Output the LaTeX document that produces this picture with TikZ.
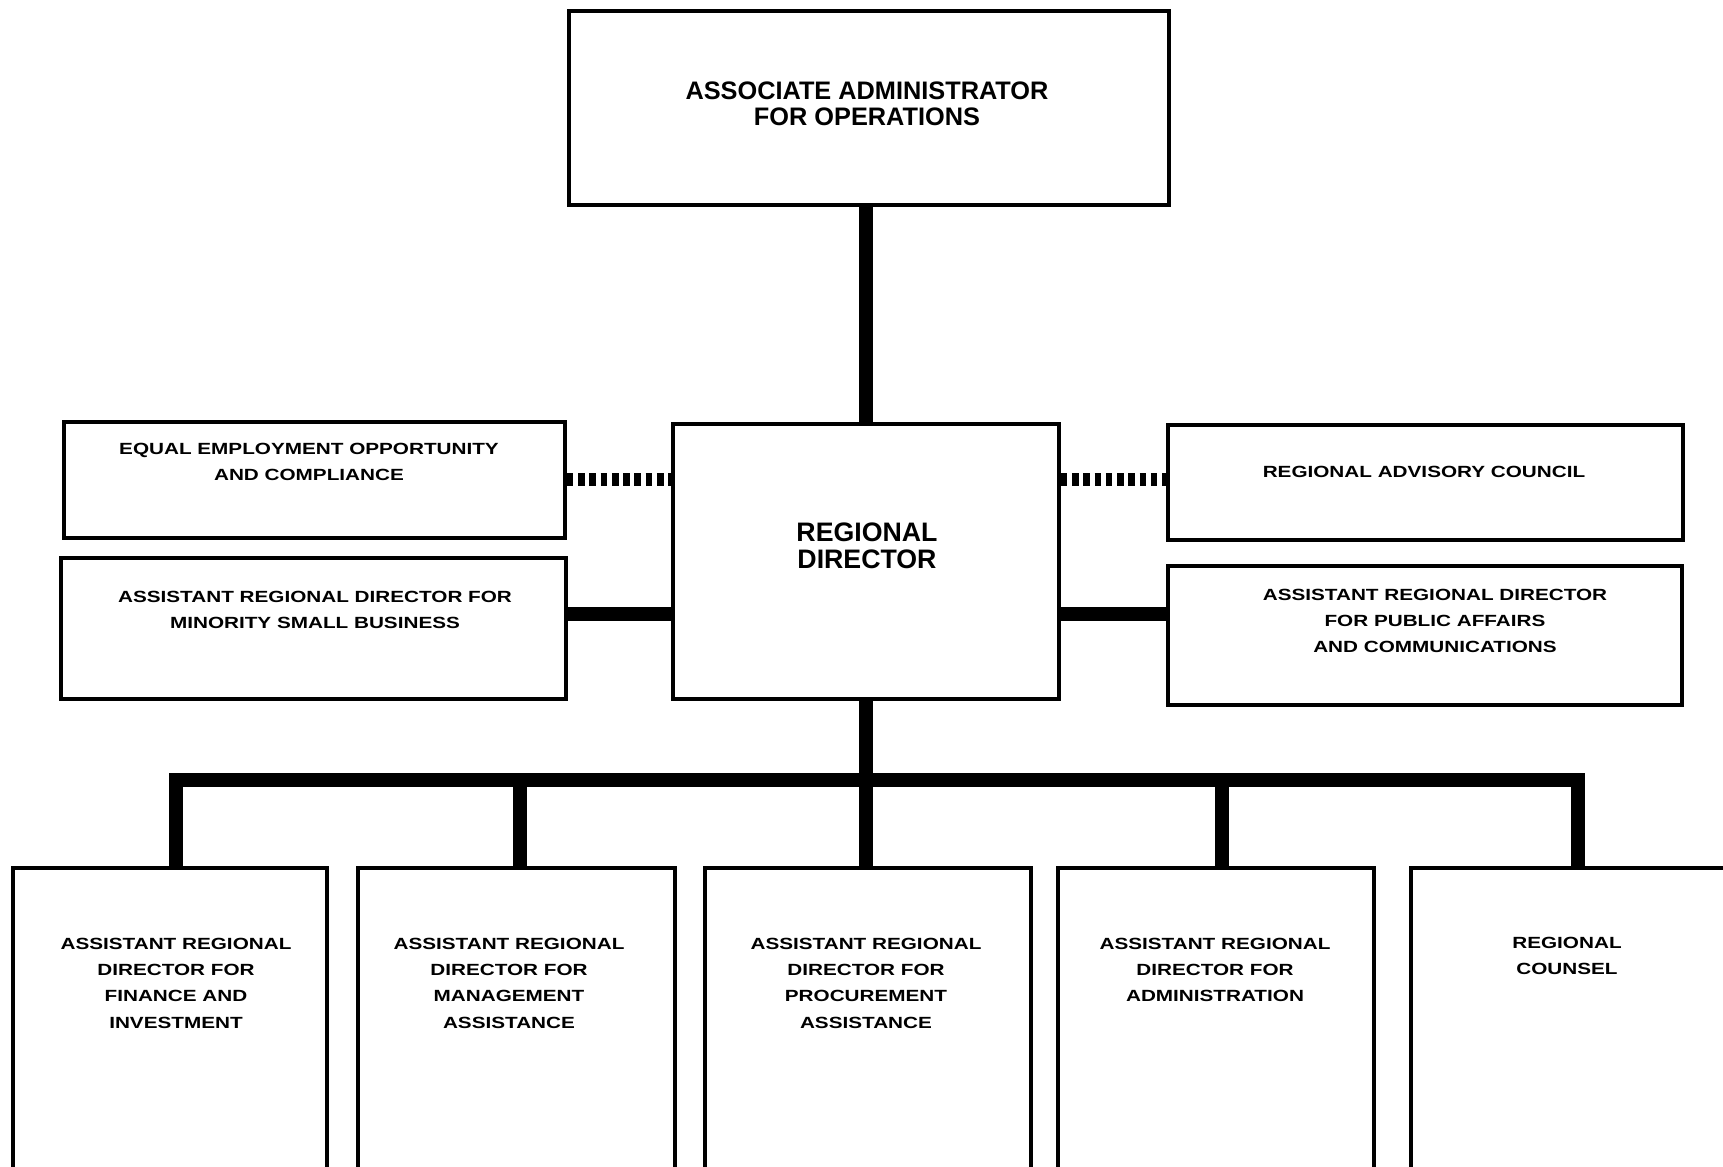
\documentclass[tikz,border=0pt]{standalone}
\usepackage{fontspec}
\setmainfont{Liberation Sans}
\newfontfamily\widefont{Liberation Sans}[FakeStretch=1.28]

\begin{document}
\begin{tikzpicture}[x=0.01cm,y=-0.01cm,
	box/.style={draw,line width=1pt,inner sep=0pt,anchor=north west},
	caption/.style={align=center,inner sep=0pt,font=\widefont\bfseries\fontsize{4.6}{7.5}\selectfont},
	bigcaption/.style={align=center,inner sep=0pt,font=\bfseries\fontsize{7.2}{7.4}\selectfont},
	tie/.style={line width=4pt,line join=miter},
	dotline/.style={line width=3.8pt,dash pattern=on 1.9pt off 1.3pt}]
	\useasboundingbox[fill=white] (0,0) rectangle (1723,1167);

	% boxes
	\node[box,minimum width=6cm,minimum height=1.94cm] (aao) at (567,9) {};
	\node[box,minimum width=3.86cm,minimum height=2.75cm] (rd) at (671,422) {};
	\node[box,minimum width=5.01cm,minimum height=1.16cm] (eeo) at (62,420) {};
	\node[box,minimum width=5.05cm,minimum height=1.41cm] (mino) at (59,556) {};
	\node[box,minimum width=5.15cm,minimum height=1.15cm] (rac) at (1166,423) {};
	\node[box,minimum width=5.14cm,minimum height=1.39cm] (pub) at (1166,564) {};
	\node[box,minimum width=3.14cm,minimum height=3.1cm] (fin) at (11,866) {};
	\node[box,minimum width=3.17cm,minimum height=3.1cm] (mgmt) at (356,866) {};
	\node[box,minimum width=3.26cm,minimum height=3.1cm] (proc) at (703,866) {};
	\node[box,minimum width=3.16cm,minimum height=3.1cm] (admin) at (1056,866) {};
	\node[box,minimum width=3.4cm,minimum height=3.1cm] (counsel) at (1409,866) {};

	% texts
	\node[bigcaption] (aao-t) at (867,104) {ASSOCIATE ADMINISTRATOR\\FOR OPERATIONS};
	\node[bigcaption,font=\bfseries\fontsize{7.6}{7.7}\selectfont] (rd-t) at (867,546) {REGIONAL\\DIRECTOR};
	\node[caption] (eeo-t) at (309,462) {EQUAL EMPLOYMENT OPPORTUNITY\\AND COMPLIANCE};
	\node[caption] (mino-t) at (315,610) {ASSISTANT REGIONAL DIRECTOR FOR\\MINORITY SMALL BUSINESS};
	\node[caption] (rac-t) at (1424,472) {REGIONAL ADVISORY COUNCIL};
	\node[caption] (pub-t) at (1435,621) {ASSISTANT REGIONAL DIRECTOR\\FOR PUBLIC AFFAIRS\\AND COMMUNICATIONS};
	\node[caption] (fin-t) at (176,983) {ASSISTANT REGIONAL\\DIRECTOR FOR\\FINANCE AND\\INVESTMENT};
	\node[caption] (mgmt-t) at (509,983) {ASSISTANT REGIONAL\\DIRECTOR FOR\\MANAGEMENT\\ASSISTANCE};
	\node[caption] (proc-t) at (866,983) {ASSISTANT REGIONAL\\DIRECTOR FOR\\PROCUREMENT\\ASSISTANCE};
	\node[caption] (admin-t) at (1215,970) {ASSISTANT REGIONAL\\DIRECTOR FOR\\ADMINISTRATION};
	\node[caption] (counsel-t) at (1567,956) {REGIONAL\\COUNSEL};

	% connectors
	\coordinate (side) at (866,614);
	\coordinate (bus) at (866,780);
	\coordinate (d1) at (176,780);
	\coordinate (d2) at (520,780);
	\coordinate (d4) at (1222,780);
	\coordinate (d5) at (1578,780);
	\draw[tie] (bus |- aao.south) -- (bus |- rd.north);
	\draw[dotline] (eeo.east) -- (eeo.east -| rd.west);
	\draw[dotline] (rd.east |- eeo.east) -- (rac.west |- eeo.east);
	\draw[tie] (mino.east |- side) -- (rd.west |- side);
	\draw[tie] (rd.east |- side) -- (pub.west |- side);
	\draw[tie] (bus |- rd.south) -- (bus |- proc.north);
	\draw[tie] (d1 |- fin.north) -- (d1) -- (d5) -- (d5 |- counsel.north);
	\draw[tie] (d2) -- (d2 |- mgmt.north);
	\draw[tie] (d4) -- (d4 |- admin.north);
\end{tikzpicture}
\end{document}
